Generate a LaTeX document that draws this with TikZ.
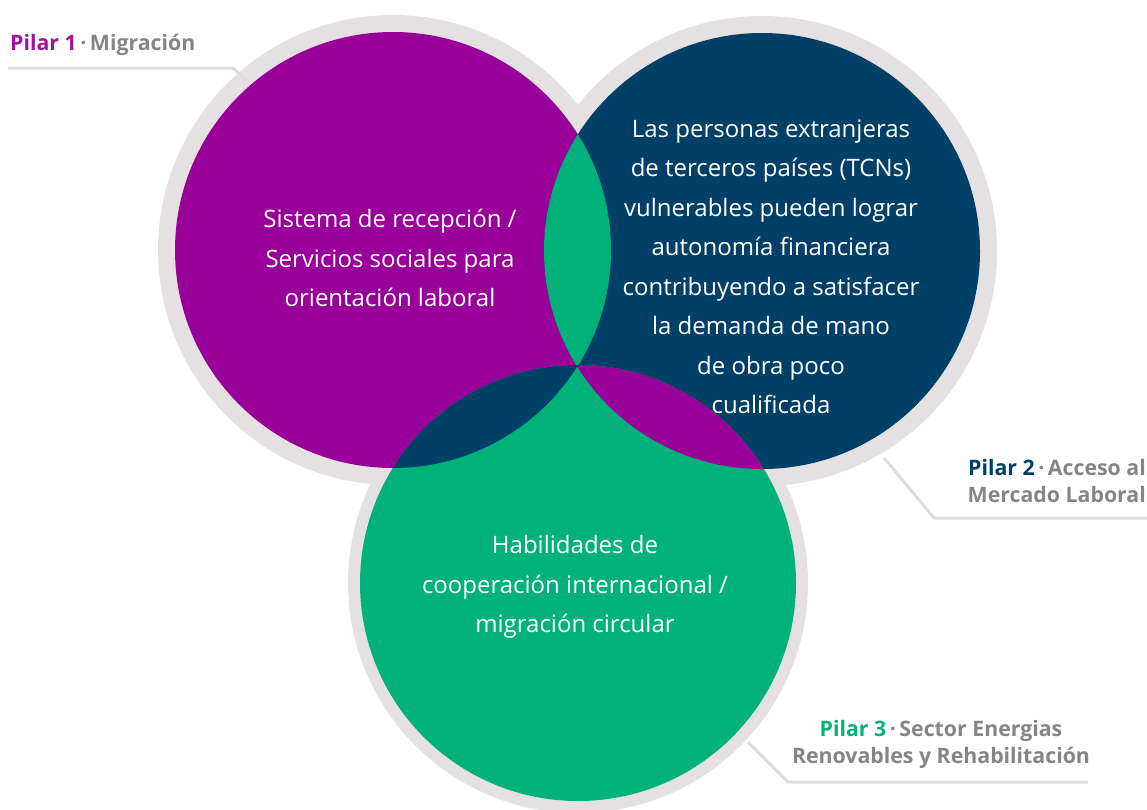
\documentclass[tikz,border=0pt]{standalone}
\usepackage{fontspec}
\setmainfont{Open Sans}
\definecolor{cpurple}{HTML}{990099}
\definecolor{cblue}{HTML}{003F66}
\definecolor{cgreen}{HTML}{00B27A}
\definecolor{ring}{HTML}{E5E1E2}
\definecolor{lead}{HTML}{DCDCDC}
\definecolor{lgray}{HTML}{858585}
\definecolor{lpurple}{HTML}{A0129F}
\begin{document}
\begin{tikzpicture}[x=1pt,y=-1pt,
  ringfill/.style={fill=ring},
  leader/.style={draw=lead,line width=3pt},
  bodytext/.style={text=white,align=center,font=\fontsize{24}{39.5}\selectfont},
  pilartext/.style={text=lgray,inner sep=0pt,font=\bfseries\fontsize{21.3}{27}\selectfont}]
\useasboundingbox (0,0) rectangle (1147,809);
\coordinate (P) at (393,250);
\coordinate (B) at (762,251);
\coordinate (G) at (578,583);
% gray rings
\fill[ringfill] (P) circle (235pt);
\fill[ringfill] (B) circle (235pt);
\fill[ringfill] (G) circle (230pt);
% main circles
\fill[cpurple] (P) circle (218pt);
\fill[cblue] (B) circle (218pt);
\fill[cgreen] (G) circle (218pt);
% lenses
\begin{scope}\clip (P) circle (218pt); \fill[cgreen] (B) circle (218pt); \end{scope}
\begin{scope}\clip (P) circle (218pt); \fill[cblue] (G) circle (218pt); \end{scope}
\begin{scope}\clip (B) circle (218pt); \fill[cpurple] (G) circle (218pt); \end{scope}
% texts
\node[bodytext] (tp) at (390,258) {Sistema de recepción /\\Servicios sociales para\\orientación laboral};
\node[bodytext] (tb) at (771,267) {Las personas extranjeras\\de terceros países (TCNs)\\vulnerables pueden lograr\\autonomía financiera\\contribuyendo a satisfacer\\la demanda de mano\\de obra poco\\cualificada};
\node[bodytext] (tg) at (575,587) {Habilidades de\\cooperación internacional /\\migración circular};
% labels
\node[pilartext,anchor=west] (l1) at (10,45) {\textcolor{lpurple}{Pilar 1}\,·\,Migración};
\node[pilartext,anchor=east,align=right] (l2) at (1146,481) {\textcolor{cblue}{Pilar 2}\,·\,Acceso al\\Mercado Laboral};
\node[pilartext,align=center] (l3) at (941,744) {\textcolor{cgreen}{Pilar 3}\,·\,Sector Energias\\Renovables y Rehabilitación};
% leaders
\coordinate (a1) at (8,68); \coordinate (b1) at (233,68); \coordinate (c1) at (246,80);
\draw[leader] (a1) -- (b1) -- (c1);
\coordinate (a2) at (1147,518); \coordinate (b2) at (934,518); \coordinate (c2) at (884,458);
\draw[leader] (a2) -- (b2) -- (c2);
\coordinate (a3) at (1088,782); \coordinate (b3) at (788,782); \coordinate (c3) at (748,742);
\draw[leader] (a3) -- (b3) -- (c3);
\end{tikzpicture}
\end{document}
